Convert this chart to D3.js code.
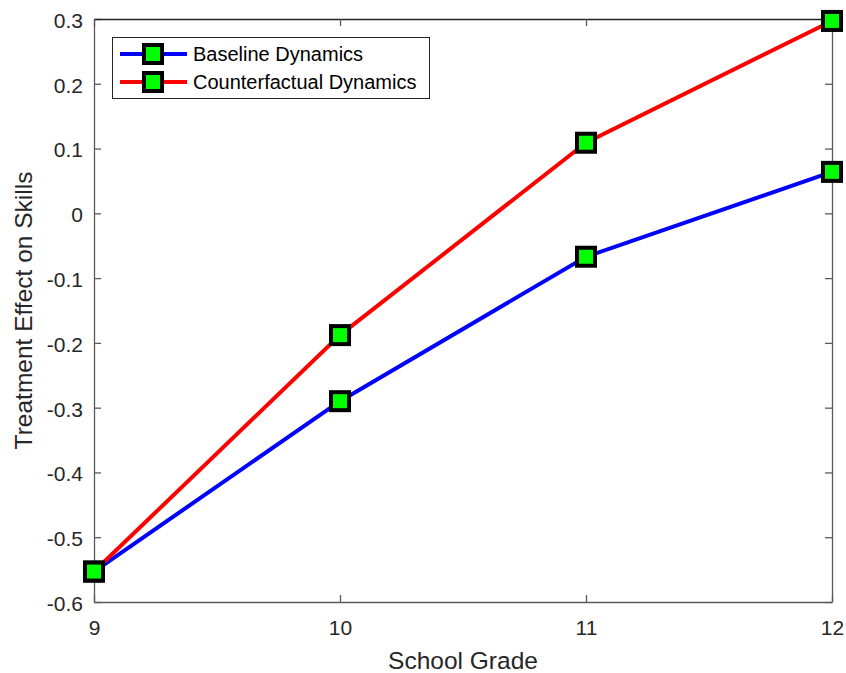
<!DOCTYPE html>
<html>
<head>
<meta charset="utf-8">
<script src="https://cdn.jsdelivr.net/npm/d3@7"></script>
<style>
  html, body { margin: 0; padding: 0; background: #fff; }
  svg { display: block; font-family: "Liberation Sans", Arial, Helvetica, sans-serif; }
</style>
</head>
<body>
<svg id="chart" width="846" height="673"></svg>
<script>
// Grades on the horizontal axis
const grades = [9, 10, 11, 12];
// Treatment effect on skills per grade
const baseline = [-0.553, -0.290, -0.067, 0.064];
const counterfactual = [-0.553, -0.188, 0.109, 0.297];
const seriesNames = ["Baseline Dynamics", "Counterfactual Dynamics"];
const seriesColors = ["#0000ff", "#ff0000"];
const yTicks = [-0.6, -0.5, -0.4, -0.3, -0.2, -0.1, 0, 0.1, 0.2, 0.3];

const svg = d3.select("#chart");
const m = { left: 94, right: 832, top: 19, bottom: 602 };

const x = d3.scaleLinear().domain([9, 12]).range([m.left, m.right]);
const y = d3.scaleLinear().domain([-0.6, 0.3]).range([m.bottom, m.top]);

const axisColor = "#5a5a5a";
const tickLen = 7;
// plain hyphen for negatives, "0" for zero
const fmt = d => (Math.abs(d) < 1e-9 ? "0" : d3.format(".1f")(d).replace("\u2212", "-"));

// Left axis with inward ticks
const gL = svg.append("g").attr("transform", `translate(${m.left},0)`)
  .call(d3.axisLeft(y).tickValues(yTicks).tickFormat(fmt).tickSizeInner(-tickLen).tickSizeOuter(0).tickPadding(11));
// Right axis (ticks only)
const gR = svg.append("g").attr("transform", `translate(${m.right},0)`)
  .call(d3.axisRight(y).tickValues(yTicks).tickFormat("").tickSizeInner(-tickLen).tickSizeOuter(0));
// Bottom axis
const gB = svg.append("g").attr("transform", `translate(0,${m.bottom})`)
  .call(d3.axisBottom(x).tickValues(grades).tickFormat(d3.format("d")).tickSizeInner(-tickLen).tickSizeOuter(0).tickPadding(18));
// Top axis (ticks only)
const gT = svg.append("g").attr("transform", `translate(0,${m.top})`)
  .call(d3.axisTop(x).tickValues(grades).tickFormat("").tickSizeInner(-tickLen).tickSizeOuter(0));

[gL, gR, gB, gT].forEach(g => {
  g.attr("font-size", null).attr("font-family", null);
  g.select(".domain").attr("stroke", axisColor).attr("stroke-width", 1.3);
  g.selectAll(".tick line").attr("stroke", axisColor).attr("stroke-width", 1.3);
  g.selectAll(".tick text").attr("fill", "#262626").style("font-size", "21px");
});
gL.selectAll(".tick text").attr("dy", "0.4em");
gT.select(".domain").attr("stroke", "#222");

// Axis titles
svg.append("text")
  .attr("x", (m.left + m.right) / 2).attr("y", 669)
  .attr("text-anchor", "middle").style("font-size", "24.5px").attr("fill", "#262626")
  .text("School Grade");
svg.append("text")
  .attr("transform", `translate(32,${(m.top + m.bottom) / 2}) rotate(-90)`)
  .attr("text-anchor", "middle").style("font-size", "24.5px").attr("fill", "#262626")
  .text("Treatment Effect on Skills");

// Series lines and markers
const series = [baseline, counterfactual];
const line = d3.line().x((d, i) => x(grades[i])).y(d => y(d));
const markerSize = 18;

series.forEach((vals, k) => {
  svg.append("path").datum(vals)
    .attr("d", line).attr("fill", "none")
    .attr("stroke", seriesColors[k]).attr("stroke-width", 4);
});
series.forEach((vals) => {
  svg.append("g").selectAll("rect").data(vals).join("rect")
    .attr("x", (d, i) => x(grades[i]) - markerSize / 2)
    .attr("y", d => y(d) - markerSize / 2)
    .attr("width", markerSize).attr("height", markerSize)
    .attr("fill", "#00ff00").attr("stroke", "#000").attr("stroke-width", 4);
});

// Legend
const lg = svg.append("g");
lg.append("rect").attr("x", 112.5).attr("y", 37.5).attr("width", 317).attr("height", 61)
  .attr("fill", "#fff").attr("stroke", "#262626").attr("stroke-width", 1);
seriesNames.forEach((name, k) => {
  const cy = 54 + k * 28;
  lg.append("line").attr("x1", 120).attr("x2", 187).attr("y1", cy).attr("y2", cy)
    .attr("stroke", seriesColors[k]).attr("stroke-width", 4);
  lg.append("rect").attr("x", 153 - markerSize / 2).attr("y", cy - markerSize / 2)
    .attr("width", markerSize).attr("height", markerSize)
    .attr("fill", "#00ff00").attr("stroke", "#000").attr("stroke-width", 4);
  lg.append("text").attr("x", 193).attr("y", cy + 7)
    .style("font-size", "20px").attr("fill", "#000").text(name);
});
</script>
</body>
</html>
